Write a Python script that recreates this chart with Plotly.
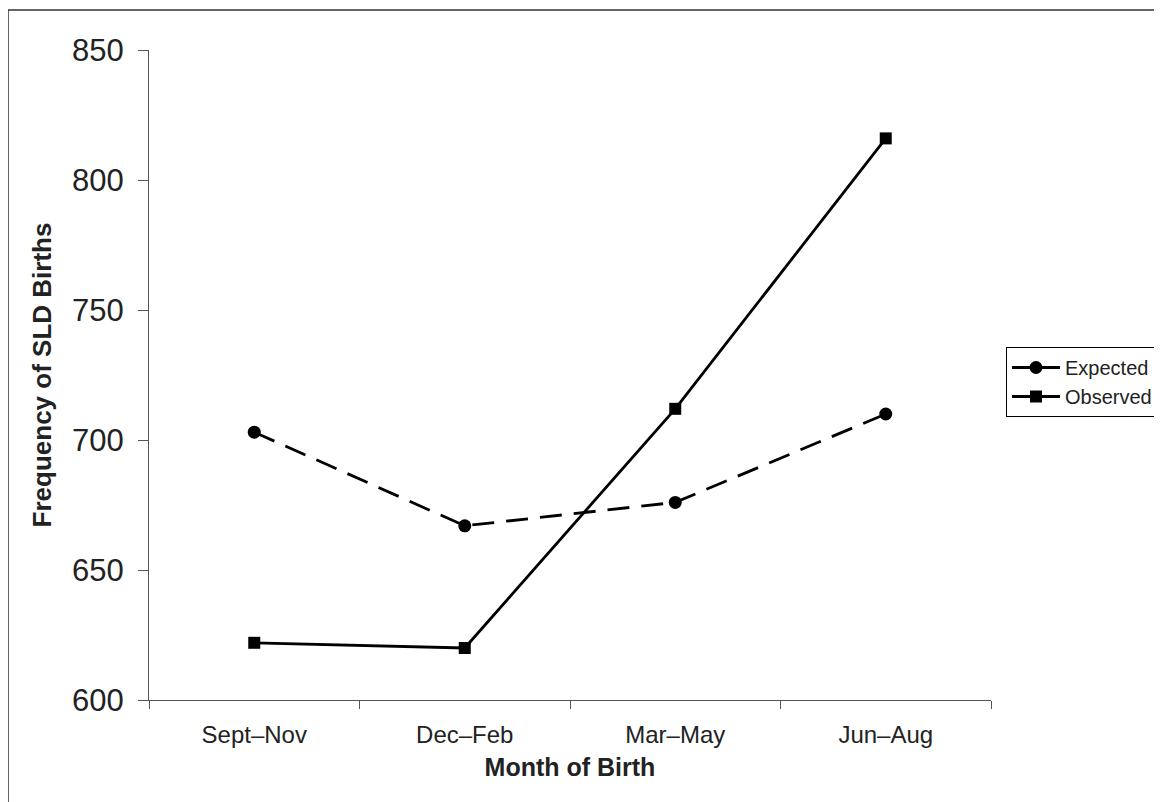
import plotly.graph_objects as go

categories = ["Sept–Nov", "Dec–Feb", "Mar–May", "Jun–Aug"]
expected = [703, 667, 676, 710]
observed = [622, 620, 712, 816]
y_ticks = [600, 650, 700, 750, 800, 850]

# page is rendered with an 8px body offset; compensate
OFF = 8
W, H = 1162, 802
L, R, T, B = 149 - OFF, 1162 - 991 + OFF, 50 - OFF, 802 - 700 + OFF
pw, ph = W - L - R, H - T - B

def px_to_paper_x(px):
    return (px - OFF - L) / pw

def px_to_paper_y(py):
    return (H - B - (py - OFF)) / ph

fig = go.Figure()
fig.add_trace(go.Scatter(
    x=categories, y=expected, name="Expected", mode="lines+markers",
    line=dict(color="black", width=2.8, dash="22px,12px"),
    marker=dict(symbol="circle", size=13, color="black"),
    showlegend=False,
))
fig.add_trace(go.Scatter(
    x=categories, y=observed, name="Observed", mode="lines+markers",
    line=dict(color="black", width=2.8),
    marker=dict(symbol="square", size=12, color="black"),
    showlegend=False,
))
# legend entries (solid line samples as in the original legend)
fig.add_trace(go.Scatter(
    x=[None], y=[None], name="Expected", mode="lines+markers",
    line=dict(color="black", width=2.8),
    marker=dict(symbol="circle", size=13, color="black"),
))
fig.add_trace(go.Scatter(
    x=[None], y=[None], name="Observed", mode="lines+markers",
    line=dict(color="black", width=2.8),
    marker=dict(symbol="square", size=12, color="black"),
))

fig.update_layout(
    width=W, height=H,
    margin=dict(l=L, r=R, t=T, b=B, autoexpand=False),
    paper_bgcolor="white", plot_bgcolor="white",
    font=dict(family="Liberation Sans, Arial, sans-serif", color="#222"),
    showlegend=True,
    legend=dict(
        x=px_to_paper_x(1006), y=px_to_paper_y(347), xanchor="left", yanchor="top",
        bordercolor="black", borderwidth=1, bgcolor="white",
        font=dict(size=20, color="#222"), tracegroupgap=0,
        itemwidth=48,
    ),
    xaxis=dict(
        type="category", range=[-0.5, 3.5],
        showline=True, linecolor="#555", linewidth=1,
        ticks="outside", tickson="boundaries", ticklen=8, tickcolor="#555",
        tickfont=dict(size=24), showgrid=False, zeroline=False,
        ticklabelstandoff=13,
        title=dict(text="<b>Month of Birth</b>", font=dict(size=25), standoff=11),
    ),
    yaxis=dict(
        range=[600, 850], tickvals=y_ticks,
        showline=True, linecolor="#555", linewidth=1,
        ticks="outside", ticklen=10, tickcolor="#555",
        tickfont=dict(size=31), showgrid=False, zeroline=False,
        ticklabelstandoff=8,
        title=dict(text="<b>Frequency of SLD Births</b>", font=dict(size=26), standoff=12),
    ),
    shapes=[dict(
        type="rect", xref="paper", yref="paper", layer="below",
        x0=px_to_paper_x(8), x1=px_to_paper_x(1200),
        y0=px_to_paper_y(850), y1=px_to_paper_y(10),
        line=dict(color="#333", width=1.5), fillcolor="rgba(0,0,0,0)",
    )],
)

fig.write_html("out.html")
